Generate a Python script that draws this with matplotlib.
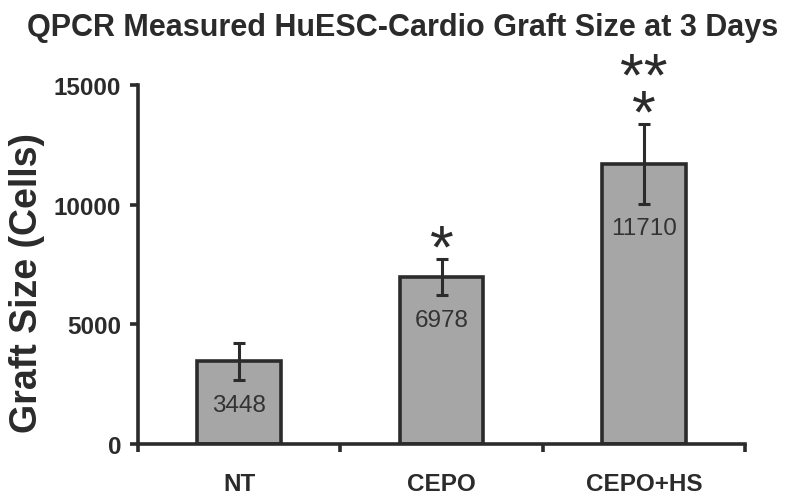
import matplotlib
matplotlib.use("Agg")
import matplotlib.pyplot as plt

categories = ["NT", "CEPO", "CEPO+HS"]
graft_size = [3448, 6978, 11710]
errors = [790, 770, 1680]
stars = ["", "*", "**\n*"]

plt.rcParams["font.family"] = ["Liberation Sans", "DejaVu Sans"]
dark = "#2b2b2b"

fig = plt.figure(figsize=(8.0, 5.02), dpi=100)
ax = fig.add_axes([0.1725, 0.1135, 0.75875, 0.7152])

x = range(len(categories))
ax.bar(x, graft_size, width=0.415, color="#a6a6a6", edgecolor=dark, linewidth=2.6, zorder=2)
ax.errorbar(x, graft_size, yerr=errors, fmt="none", ecolor=dark, elinewidth=2.2,
            capsize=4, capthick=2.2, zorder=3)

for i, v in enumerate(graft_size):
    ax.text(i, v - errors[i] - 550, str(v), ha="center", va="top", fontsize=17.5,
            color="#333333", zorder=4)
    if stars[i]:
        ax.text(i, v + errors[i] - 320, stars[i], ha="center", va="baseline",
                fontsize=44, color=dark, linespacing=0.53, clip_on=False)

ax.set_xlim(-0.5, 2.5)
ax.set_ylim(0, 15000)
ax.set_yticks([0, 5000, 10000, 15000])
ax.set_xticks([-0.5, 0.5, 1.5, 2.5])
ax.set_xticklabels([])
ax.set_xticks(list(x), minor=True)
ax.set_xticklabels(categories, minor=True, fontsize=17.5, fontweight="bold", color=dark)
ax.tick_params(axis="x", which="minor", length=0, pad=20)
ax.tick_params(axis="x", which="major", length=6, width=2.6, color=dark)
ax.tick_params(axis="y", length=6, width=2.6, color=dark, labelsize=17.5, labelcolor=dark, pad=6)
for lab in ax.get_yticklabels():
    lab.set_fontweight("bold")

for s in ["top", "right"]:
    ax.spines[s].set_visible(False)
for s in ["left", "bottom"]:
    ax.spines[s].set_linewidth(2.6)
    ax.spines[s].set_color(dark)

ax.set_ylabel("Graft Size (Cells)", fontsize=27, fontweight="bold", color=dark)
ax.yaxis.set_label_coords(-0.153, 0.45)
fig.text(0.503, 0.944, "QPCR Measured HuESC-Cardio Graft Size at 3 Days",
         ha="center", va="center", fontsize=22, fontweight="bold", color=dark)

fig.savefig("out.png", dpi=100)
